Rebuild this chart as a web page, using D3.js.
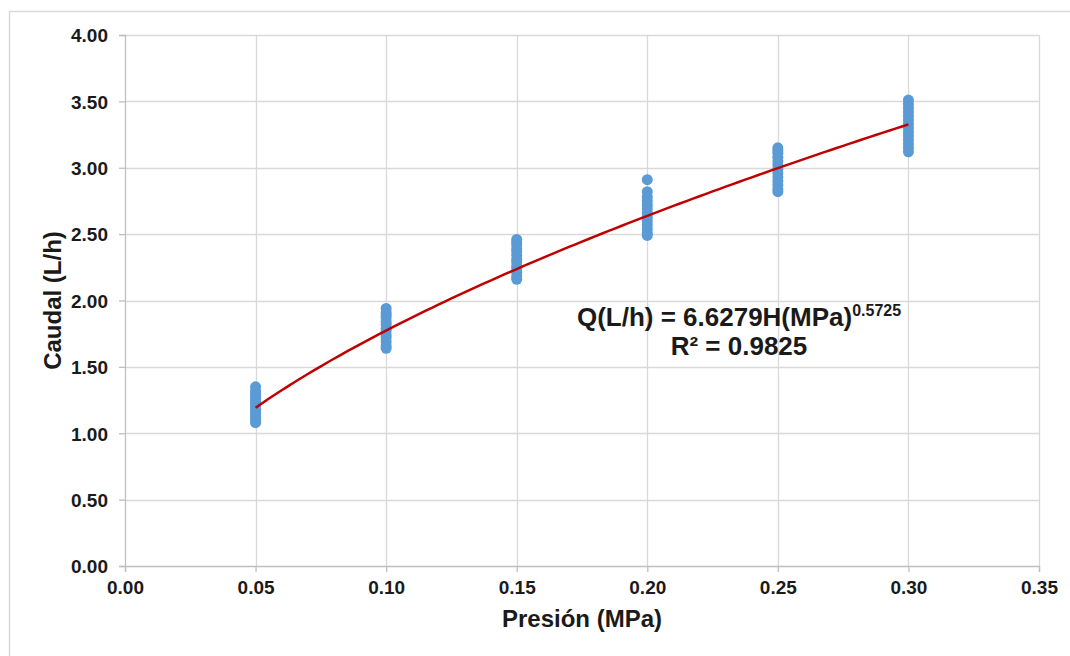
<!DOCTYPE html>
<html>
<head>
<meta charset="utf-8">
<script src="https://cdn.jsdelivr.net/npm/d3@7"></script>
<style>
  html, body { margin: 0; padding: 0; background: #ffffff; }
  svg { display: block; font-family: "Liberation Sans", Arial, sans-serif; }
</style>
</head>
<body>
<svg id="chart" width="1070" height="656"></svg>
<script>
// Measured flow rates (L/h) at each test pressure (MPa)
const pressures = [0.05, 0.10, 0.15, 0.20, 0.25, 0.30];
const flow005 = [1.08, 1.10, 1.12, 1.14, 1.16, 1.18, 1.20, 1.22, 1.24, 1.26, 1.28, 1.30, 1.32, 1.35];
const flow010 = [1.64, 1.66, 1.69, 1.72, 1.74, 1.77, 1.79, 1.82, 1.84, 1.87, 1.89, 1.91, 1.94];
const flow015 = [2.16, 2.18, 2.21, 2.24, 2.26, 2.29, 2.31, 2.34, 2.37, 2.39, 2.42, 2.44, 2.46];
const flow020 = [2.49, 2.51, 2.54, 2.57, 2.60, 2.63, 2.66, 2.69, 2.72, 2.75, 2.78, 2.82, 2.91];
const flow025 = [2.82, 2.84, 2.87, 2.90, 2.93, 2.96, 2.99, 3.02, 3.05, 3.08, 3.11, 3.13, 3.15];
const flow030 = [3.12, 3.15, 3.18, 3.21, 3.24, 3.27, 3.30, 3.33, 3.36, 3.39, 3.42, 3.45, 3.48, 3.51];
const flowSets = [flow005, flow010, flow015, flow020, flow025, flow030];

// Power-law fit Q = a * H^b
const fitA = 6.6279;
const fitB = 0.5725;
const fitR2 = "0.9825";
const fitRange = [0.05, 0.30];

const xTicks = [0.00, 0.05, 0.10, 0.15, 0.20, 0.25, 0.30, 0.35];
const yTicks = [0.00, 0.50, 1.00, 1.50, 2.00, 2.50, 3.00, 3.50, 4.00];

const points = [];
pressures.forEach((p, i) => flowSets[i].forEach(q => points.push({ p, q })));

const svg = d3.select("#chart");
const plotL = 125, plotR = 1039, plotT = 35, plotB = 566;

const x = d3.scaleLinear().domain([0, 0.35]).range([plotL, plotR]);
const y = d3.scaleLinear().domain([0, 4]).range([plotB, plotT]);

// outer frame (left and top edges visible)
svg.append("path")
  .attr("d", `M9.5,656 V11.5 H1070`)
  .attr("fill", "none").attr("stroke", "#d9d9d9").attr("stroke-width", 1.5);

// gridlines
svg.append("g").selectAll("line").data(yTicks.slice(1)).join("line")
  .attr("x1", plotL).attr("x2", plotR)
  .attr("y1", d => Math.round(y(d)) + 0.5).attr("y2", d => Math.round(y(d)) + 0.5)
  .attr("stroke", "#d9d9d9").attr("stroke-width", 1.3);
svg.append("g").selectAll("line").data(xTicks.slice(1)).join("line")
  .attr("y1", plotT).attr("y2", plotB)
  .attr("x1", d => Math.round(x(d)) + 0.5).attr("x2", d => Math.round(x(d)) + 0.5)
  .attr("stroke", "#d9d9d9").attr("stroke-width", 1.3);

// axes
const xAxis = d3.axisBottom(x).tickValues(xTicks).tickFormat(d3.format(".2f"))
  .tickSize(6).tickPadding(9);
const yAxis = d3.axisLeft(y).tickValues(yTicks).tickFormat(d3.format(".2f"))
  .tickSize(6).tickPadding(11);

const gx = svg.append("g").attr("transform", `translate(0,${plotB})`).call(xAxis);
const gy = svg.append("g").attr("transform", `translate(${plotL},0)`).call(yAxis);
[gx, gy].forEach(g => {
  g.select(".domain").attr("stroke", "#bfbfbf").attr("stroke-width", 1.3);
  g.selectAll(".tick line").attr("stroke", "#bfbfbf").attr("stroke-width", 1.3);
  g.selectAll(".tick text")
    .attr("font-family", "Liberation Sans, Arial, sans-serif")
    .attr("font-size", 19).attr("font-weight", "bold").attr("fill", "#1a1a1a");
});
gy.selectAll(".tick text").attr("dy", "0.36em");

// measured points
svg.append("g").selectAll("circle").data(points).join("circle")
  .attr("cx", d => x(d.p)).attr("cy", d => y(d.q)).attr("r", 5.5)
  .attr("fill", "#5b9bd5");

// fitted power curve
const curveX = d3.range(0, 101).map(i => fitRange[0] + (fitRange[1] - fitRange[0]) * i / 100);
const line = d3.line().x(d => x(d)).y(d => y(fitA * Math.pow(d, fitB))).curve(d3.curveLinear);
svg.append("path").datum(curveX).attr("d", line)
  .attr("fill", "none").attr("stroke", "#c00000").attr("stroke-width", 2.5);

// fit equation
const eq = svg.append("text")
  .attr("x", 739).attr("y", 326).attr("text-anchor", "middle")
  .attr("font-size", 26).attr("font-weight", "bold").attr("fill", "#1a1a1a");
eq.append("tspan").text(`Q(L/h) = ${fitA}H(MPa)`);
eq.append("tspan").attr("font-size", 16).attr("dy", -10).text(`${fitB}`);
svg.append("text")
  .attr("x", 739).attr("y", 355).attr("text-anchor", "middle")
  .attr("font-size", 26).attr("font-weight", "bold").attr("fill", "#1a1a1a")
  .text(`R² = ${fitR2}`);

// axis titles
svg.append("text")
  .attr("x", (plotL + plotR) / 2).attr("y", 627).attr("text-anchor", "middle")
  .attr("font-size", 24).attr("font-weight", "bold").attr("fill", "#1a1a1a")
  .text("Presión (MPa)");
svg.append("text")
  .attr("transform", `translate(61,${(plotT + plotB) / 2}) rotate(-90)`)
  .attr("text-anchor", "middle")
  .attr("font-size", 24).attr("font-weight", "bold").attr("fill", "#1a1a1a")
  .text("Caudal (L/h)");
</script>
</body>
</html>
